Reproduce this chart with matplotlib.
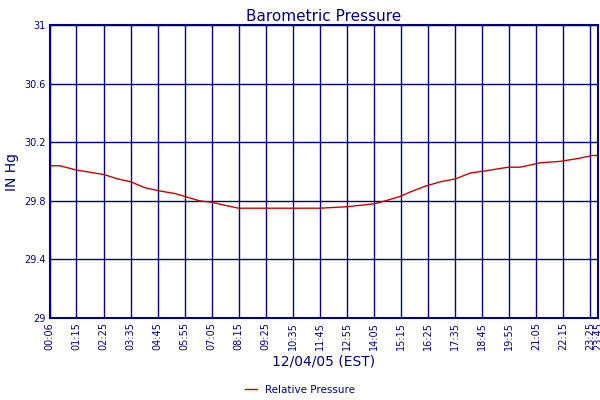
import matplotlib
matplotlib.use("Agg")
import matplotlib.pyplot as plt

NAVY = "#000080"
RED = "#cc0000"

times = ["00:06", "00:32", "01:16", "02:03", "02:26", "03:02", "03:36", "04:12",
         "04:46", "05:30", "05:56", "06:34", "07:06", "07:39", "08:15", "09:10",
         "10:02", "10:53", "11:45", "12:55", "14:05", "14:34", "15:12", "15:38",
         "16:17", "16:56", "17:35", "18:14", "19:05", "19:52", "20:23", "21:15",
         "22:07", "22:54", "23:30", "23:45"]
pressure = [30.04, 30.04, 30.01, 29.99, 29.98, 29.95, 29.93, 29.89,
            29.87, 29.85, 29.83, 29.80, 29.79, 29.77, 29.75, 29.75,
            29.75, 29.75, 29.75, 29.76, 29.78, 29.80, 29.83, 29.86,
            29.90, 29.93, 29.95, 29.99, 30.01, 30.03, 30.03, 30.06,
            30.07, 30.09, 30.11, 30.11]
tick_labels = ["00:06", "01:15", "02:25", "03:35", "04:45", "05:55", "07:05",
               "08:15", "09:25", "10:35", "11:45", "12:55", "14:05", "15:15",
               "16:25", "17:35", "18:45", "19:55", "21:05", "22:15", "23:25",
               "23:45"]
y_ticks = [29, 29.4, 29.8, 30.2, 30.6, 31]


def to_min(s):
    h, m = s.split(":")
    return int(h) * 60 + int(m)


x = [to_min(t) for t in times]
xt = [to_min(t) for t in tick_labels]

fig = plt.figure(figsize=(6, 4), dpi=100)
ax = fig.add_axes([0.083, 0.205, 0.914, 0.732])
ax.plot(x, pressure, color=RED, linewidth=1, label="Relative Pressure")
ax.set_xlim(xt[0], xt[-1])
ax.set_ylim(29, 31)
ax.set_xticks(xt)
ax.set_xticklabels(tick_labels, rotation=90, fontsize=7, color=NAVY)
ax.set_yticks(y_ticks)
ax.set_yticklabels([f"{v:g}" for v in y_ticks], fontsize=7, color=NAVY)
ax.tick_params(length=0, pad=3)
ax.grid(True, color=NAVY, linewidth=1)
for s in ax.spines.values():
    s.set_color(NAVY)
    s.set_linewidth(1.5)
ax.set_title("Barometric Pressure", color=NAVY, fontsize=11, pad=3)
ax.set_ylabel("IN Hg", color=NAVY, fontsize=10, labelpad=4)
ax.set_xlabel("12/04/05 (EST)", color=NAVY, fontsize=10, labelpad=3)
fig.legend(loc="lower center", bbox_to_anchor=(0.5, -0.01), frameon=False,
           fontsize=7.5, labelcolor=NAVY, handlelength=1.2)
fig.savefig("out.png", dpi=100)
